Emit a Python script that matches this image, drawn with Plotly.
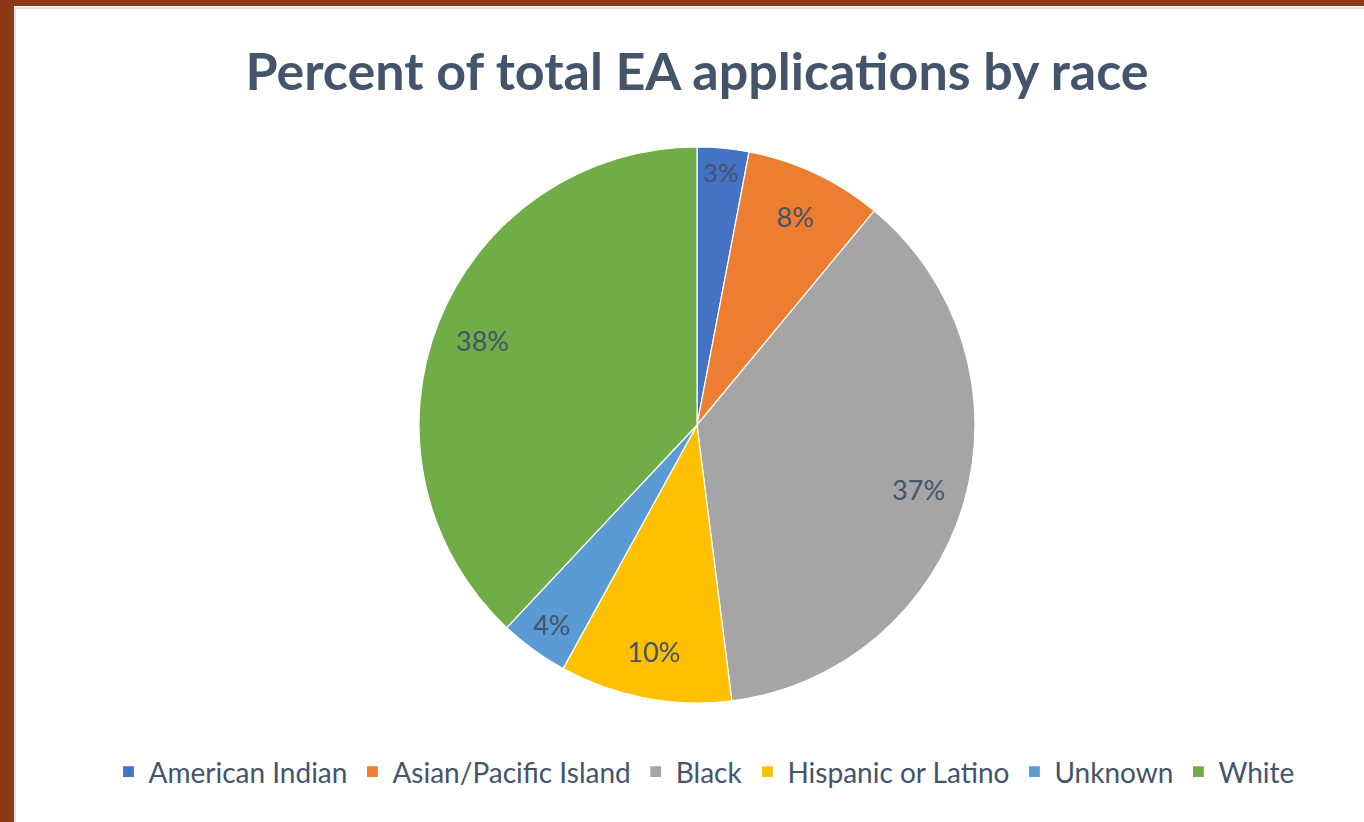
import plotly.graph_objects as go

# Share of early-action applications by race (percent)
categories = ["American Indian", "Asian/Pacific Island", "Black",
              "Hispanic or Latino", "Unknown", "White"]
shares = [3, 8, 37, 10, 4, 38]
slice_colors = ["#4472C4", "#ED7D31", "#A5A5A5", "#FFC000", "#5B9BD5", "#70AD47"]

W, H = 1364, 822
TEXT = "#44546A"
FONT = "Lato, 'Open Sans', sans-serif"

# Pie placement in pixels -> paper fractions
cx, cy, r = 697, 425, 278
pie_domain = dict(x=[(cx - r) / W, (cx + r) / W],
                  y=[(H - cy - r) / H, (H - cy + r) / H])

# Filled slices
pie = go.Pie(
    labels=categories,
    values=shares,
    sort=False,
    direction="clockwise",
    rotation=0,
    marker=dict(colors=slice_colors, line=dict(color="white", width=1.2)),
    textinfo="none",
    domain=pie_domain,
    hoverinfo="label+percent",
)

# Transparent ring on top that carries the percentage labels near the rim
labels_ring = go.Pie(
    labels=categories,
    values=shares,
    sort=False,
    direction="clockwise",
    rotation=0,
    hole=0.66,
    marker=dict(colors=["rgba(0,0,0,0)"] * len(shares), line=dict(width=0)),
    texttemplate="%{value}%",
    textposition="inside",
    insidetextorientation="horizontal",
    textfont=dict(family=FONT, size=27, color=TEXT),
    domain=pie_domain,
    showlegend=False,
    hoverinfo="skip",
)

fig = go.Figure([pie, labels_ring])

fig.update_layout(
    width=W, height=H,
    margin=dict(l=0, r=0, t=0, b=0),
    paper_bgcolor="white",
    plot_bgcolor="white",
    title=dict(text="<b>Percent of total EA applications by race</b>",
               x=697 / W, xanchor="center", y=1 - 72 / H, yanchor="middle",
               font=dict(family=FONT, size=52, color=TEXT)),
    legend=dict(orientation="h", x=704 / W, xanchor="center",
                y=1 - 772 / H, yanchor="middle",
                font=dict(family=FONT, size=28, color=TEXT),
                itemwidth=30, traceorder="normal"),
    shapes=[
        # brown frame along the top and left edges
        dict(type="rect", xref="paper", yref="paper", x0=0, x1=1,
             y0=1 - 6 / H, y1=1, fillcolor="#8B3A16", line=dict(width=0), layer="above"),
        dict(type="rect", xref="paper", yref="paper", x0=0, x1=14 / W,
             y0=0, y1=1, fillcolor="#8B3A16", line=dict(width=0), layer="above"),
        # thin light inner edge
        dict(type="line", xref="paper", yref="paper", x0=15 / W, x1=1,
             y0=1 - 8 / H, y1=1 - 8 / H, line=dict(color="#DDE1E8", width=2)),
        dict(type="line", xref="paper", yref="paper", x0=15 / W, x1=15 / W,
             y0=0, y1=1 - 8 / H, line=dict(color="#DDE1E8", width=2)),
    ],
)

fig.write_html("out.html")
